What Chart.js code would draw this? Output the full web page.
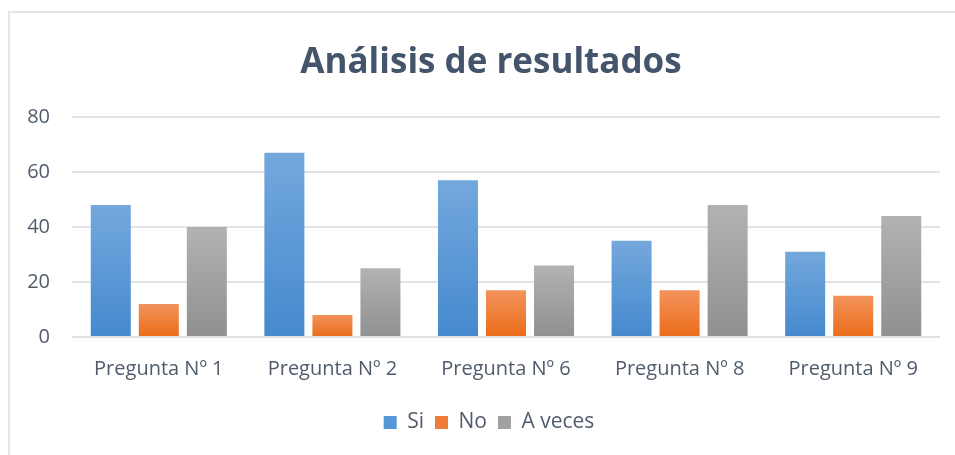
<!DOCTYPE html>
<html>
<head>
<meta charset="utf-8">
<script src="https://cdn.jsdelivr.net/npm/chart.js@4"></script>
<style>
  html, body { margin: 0; padding: 0; background: #fff; }
  #wrap { position: relative; width: 955px; height: 455px; }
  #frame { position: absolute; left: 8px; top: 11px; width: 960px; height: 460px;
           border-left: 2px solid #E2E5EA; border-top: 2px solid #E2E5EA; box-sizing: border-box; }
  canvas { position: absolute; left: 0; top: 0; }
</style>
</head>
<body>
<div id="wrap">
  <div id="frame"></div>
  <canvas id="c" width="955" height="455"></canvas>
</div>
<script>
const categories = ["Pregunta Nº 1", "Pregunta Nº 2", "Pregunta Nº 6", "Pregunta Nº 8", "Pregunta Nº 9"];
const siValues = [48, 67, 57, 35, 31];
const noValues = [12, 8, 17, 17, 15];
const aVecesValues = [40, 25, 26, 48, 44];
const yTicks = [0, 20, 40, 60, 80];

const FONT = "'Open Sans', 'DejaVu Sans', sans-serif";
const TEXT = "#505B6C";

function grad(top, bottom) {
  return function (ctx) {
    const chart = ctx.chart;
    if (!chart.chartArea || ctx.type !== 'data') return bottom;
    const y = chart.scales.y;
    const v = ctx.raw;
    const y0 = y.getPixelForValue(0);
    const y1 = y.getPixelForValue(v);
    if (!isFinite(y0) || !isFinite(y1) || y0 === y1) return bottom;
    const g = chart.ctx.createLinearGradient(0, y1, 0, y0);
    g.addColorStop(0, top);
    g.addColorStop(1, bottom);
    return g;
  };
}

const shiftBlocks = {
  id: 'shiftBlocks',
  afterLayout(chart) {
    if (chart.titleBlock) { chart.titleBlock.left += 16; chart.titleBlock.right += 16; }
    if (chart.legend) { chart.legend.left += 14; chart.legend.right += 14;
      (chart.legend.legendHitBoxes || []).forEach(b => { b.left += 14; }); }
  }
};

new Chart(document.getElementById('c'), {
  type: 'bar',
  data: {
    labels: categories,
    datasets: [
      { label: 'Si', data: siValues, backgroundColor: grad('#74A8DD', '#4589CE') },
      { label: 'No', data: noValues, backgroundColor: grad('#F2935C', '#EB6C18') },
      { label: 'A veces', data: aVecesValues, backgroundColor: grad('#B2B2B2', '#909090') }
    ]
  },
  plugins: [shiftBlocks],
  options: {
    responsive: false,
    animation: false,
    events: [],
    datasets: { bar: { categoryPercentage: 0.83, barPercentage: 0.833 } },
    layout: { padding: { left: 10, right: 15, top: 42, bottom: 12 } },
    plugins: {
      title: {
        display: true,
        text: 'Análisis de resultados',
        color: '#44546A',
        font: { family: FONT, size: 35, weight: 'bold' },
        padding: { top: 0, bottom: 33 }
      },
      legend: {
        position: 'bottom',
        labels: {
          color: TEXT,
          font: { family: FONT, size: 21 },
          boxWidth: 13, boxHeight: 13,
          padding: 11,
          generateLabels(chart) {
            const cols = ['#5597D6', '#EF7D38', '#A1A1A1'];
            return chart.data.datasets.map((d, i) => ({
              text: d.label, fillStyle: cols[i], strokeStyle: cols[i], lineWidth: 0,
              fontColor: TEXT, datasetIndex: i, hidden: false
            }));
          }
        },
        padding: 0
      },
      tooltip: { enabled: false }
    },
    scales: {
      x: {
        grid: { display: false },
        border: { display: false },
        afterFit(axis) { axis.height += 8; },
        ticks: { color: TEXT, font: { family: FONT, size: 20 }, padding: 12 }
      },
      y: {
        min: 0, max: 80,
        afterBuildTicks(axis) { axis.ticks = yTicks.map(v => ({ value: v })); },
        afterFit(axis) { axis.width = 62; },
        grid: { color: '#E0E3E8', lineWidth: 2, drawTicks: false },
        border: { display: false },
        ticks: { color: TEXT, font: { family: FONT, size: 20 }, padding: 22 }
      }
    }
  }
});
</script>
</body>
</html>
